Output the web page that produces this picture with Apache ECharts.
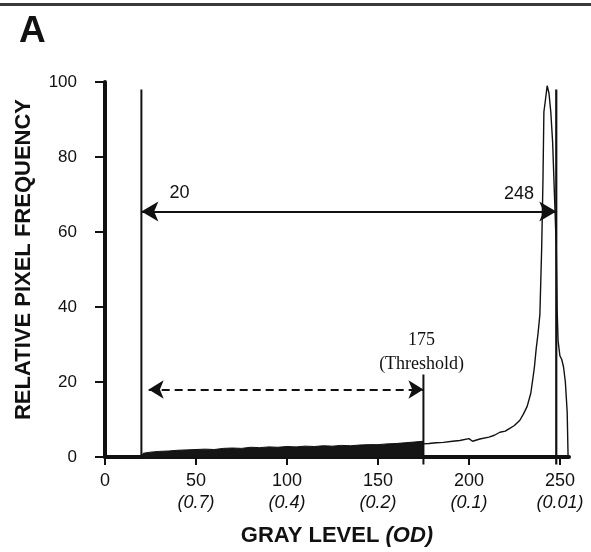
<!DOCTYPE html>
<html>
<head>
<meta charset="utf-8">
<script src="https://cdn.jsdelivr.net/npm/echarts@6/dist/echarts.min.js"></script>
<style>
html,body{margin:0;padding:0;background:#fff;}
#c{width:591px;height:552px;}
</style>
</head>
<body>
<div id="c"></div>
<script>
// ---- data ----
var xTicks = [0, 50, 100, 150, 200, 250];
var odLabels = ['', '0.7', '0.4', '0.2', '0.1', '0.01'];
var yTicks = [0, 20, 40, 60, 80, 100];

// histogram, filled part (gray level 20 .. 175)
var fillGray = [20, 21, 25, 30, 35, 40, 45, 50, 55, 60, 65, 70, 75, 80, 85, 90, 95, 100, 105, 110, 115, 120, 125, 130, 135, 140, 145, 150, 155, 160, 165, 170, 175];
var fillFreq = [0, 1.0, 1.3, 1.5, 1.6, 1.8, 1.9, 2.0, 2.1, 2.0, 2.3, 2.4, 2.3, 2.6, 2.5, 2.7, 2.6, 2.8, 2.7, 2.9, 2.8, 3.0, 2.9, 3.1, 3.0, 3.2, 3.3, 3.3, 3.5, 3.6, 3.8, 4.0, 4.2];

// histogram, line part (gray level 175 .. 255)
var curveGray = [175, 178, 182, 186, 191, 195, 200, 202, 206, 211, 214, 217, 220, 222, 225, 228, 230, 232, 234, 235, 236, 237, 238, 239, 240, 240.7, 241.2, 242, 243, 244, 245, 246, 247, 248, 248.5, 249, 250, 251, 252, 253, 254, 254.5];
var curveFreq = [3.5, 3.6, 3.8, 3.9, 4.2, 4.4, 4.9, 4.2, 4.8, 5.3, 5.8, 6.6, 6.9, 7.5, 8.4, 9.8, 11.5, 13.5, 17, 20.4, 24, 29, 33, 38, 56, 74, 92, 95, 99, 97, 92, 84, 70, 56, 39, 31, 27, 26, 24, 20, 12, 0];

// markers
var lowLimit = 20, highLimit = 248, threshold = 175;
var limitTop = 98, thresholdTop = 22;
var rangeArrowY = 65.5, thresholdArrowY = 18, thresholdArrowStart = 24;

function pairs(xs, ys) { return xs.map(function (x, i) { return [x, ys[i]]; }); }

var chart = echarts.init(document.getElementById('c'), null, {renderer: 'canvas'});
var sans = '"Liberation Sans", Arial, sans-serif';
var serif = '"Liberation Serif", "Times New Roman", serif';
var ink = '#111';

function annot(pos, text, family) {
  return {
    value: pos,
    label: {show: true, position: 'inside', formatter: text, fontFamily: family, fontSize: 18,
            color: ink, textBorderWidth: 0, opacity: 1}
  };
}

var option = {
  animation: false,
  backgroundColor: '#fff',
  grid: {left: 105, right: 22, top: 82, bottom: 92, containLabel: false},
  graphic: [
    {type: 'rect', left: 0, top: 3, shape: {width: 591, height: 3}, style: {fill: '#3a3a3a'}},
    {type: 'text', left: 19, top: 13, style: {text: 'A', font: 'bold 37px ' + sans, fill: ink}}
  ],
  xAxis: {
    type: 'value', min: 0, max: 255,
    name: '{b|GRAY LEVEL }{bi|(OD)}',
    nameLocation: 'middle', nameGap: 68,
    nameTextStyle: {rich: {
      b: {fontFamily: sans, fontWeight: 'bold', fontSize: 22, color: ink},
      bi: {fontFamily: sans, fontWeight: 'bold', fontStyle: 'italic', fontSize: 22, color: ink}
    }},
    axisLine: {show: true, onZero: false, lineStyle: {color: ink, width: 4}},
    axisTick: {show: true, customValues: xTicks, length: 8, lineStyle: {color: ink, width: 2}},
    axisLabel: {
      customValues: xTicks, margin: 14,
      formatter: function (v) {
        var i = xTicks.indexOf(v);
        if (i < 0) return '';
        return odLabels[i] ? '{n|' + v + '}\n{o|(' + odLabels[i] + ')}' : '{n|' + v + '}';
      },
      rich: {
        n: {fontFamily: sans, fontSize: 18, color: ink, lineHeight: 21},
        o: {fontFamily: sans, fontSize: 18, fontStyle: 'italic', color: ink, lineHeight: 21}
      }
    },
    splitLine: {show: false}
  },
  yAxis: {
    type: 'value', min: 0, max: 100, interval: 20,
    name: 'RELATIVE PIXEL FREQUENCY',
    nameLocation: 'middle', nameGap: 70,
    nameTextStyle: {fontFamily: sans, fontWeight: 'bold', fontSize: 22, color: ink, padding: [0, 0, 0, 20]},
    axisLine: {show: true, lineStyle: {color: ink, width: 4}},
    axisTick: {show: true, length: 10, lineStyle: {color: ink, width: 2}},
    axisLabel: {fontFamily: sans, fontSize: 17, color: ink, margin: 28},
    splitLine: {show: false}
  },
  series: [
    {
      type: 'line', data: pairs(fillGray, fillFreq), symbol: 'none',
      lineStyle: {color: ink, width: 1}, areaStyle: {color: '#151515', opacity: 1}, z: 2
    },
    {
      type: 'line', data: pairs(curveGray, curveFreq), symbol: 'none',
      lineStyle: {color: ink, width: 1.4}, z: 2
    },
    {
      type: 'line', data: [[lowLimit, 0], [lowLimit, limitTop]], symbol: 'none',
      lineStyle: {color: ink, width: 2}, z: 3
    },
    {
      type: 'line', data: [[highLimit, -2], [highLimit, limitTop]], symbol: 'none', clip: false,
      lineStyle: {color: ink, width: 2.2}, z: 3,
      markLine: {
        silent: true, symbol: ['arrow', 'arrow'], symbolSize: [15, 17],
        label: {show: false},
        lineStyle: {color: ink, width: 2, type: 'solid'},
        data: [[{coord: [lowLimit, rangeArrowY]}, {coord: [highLimit, rangeArrowY]}]]
      }
    },
    {
      type: 'line', data: [[threshold, -2], [threshold, thresholdTop]], symbol: 'none', clip: false,
      lineStyle: {color: ink, width: 2}, z: 3,
      markLine: {
        silent: true, symbol: ['arrow', 'arrow'], symbolSize: [14, 15],
        label: {show: false},
        lineStyle: {color: ink, width: 2, type: [8, 5]},
        data: [[{coord: [thresholdArrowStart, thresholdArrowY]}, {coord: [threshold, thresholdArrowY]}]]
      }
    },
    {
      type: 'scatter', symbolSize: 1, silent: true, z: 4,
      itemStyle: {color: 'rgba(0,0,0,0)'},
      data: [
        annot([41, 70.5], String(lowLimit), sans),
        annot([227.5, 70], String(highLimit), sans),
        annot([174, 31], String(threshold), serif),
        annot([174, 24.7], '(Threshold)', serif)
      ]
    }
  ]
};
chart.setOption(option);
</script>
</body>
</html>
